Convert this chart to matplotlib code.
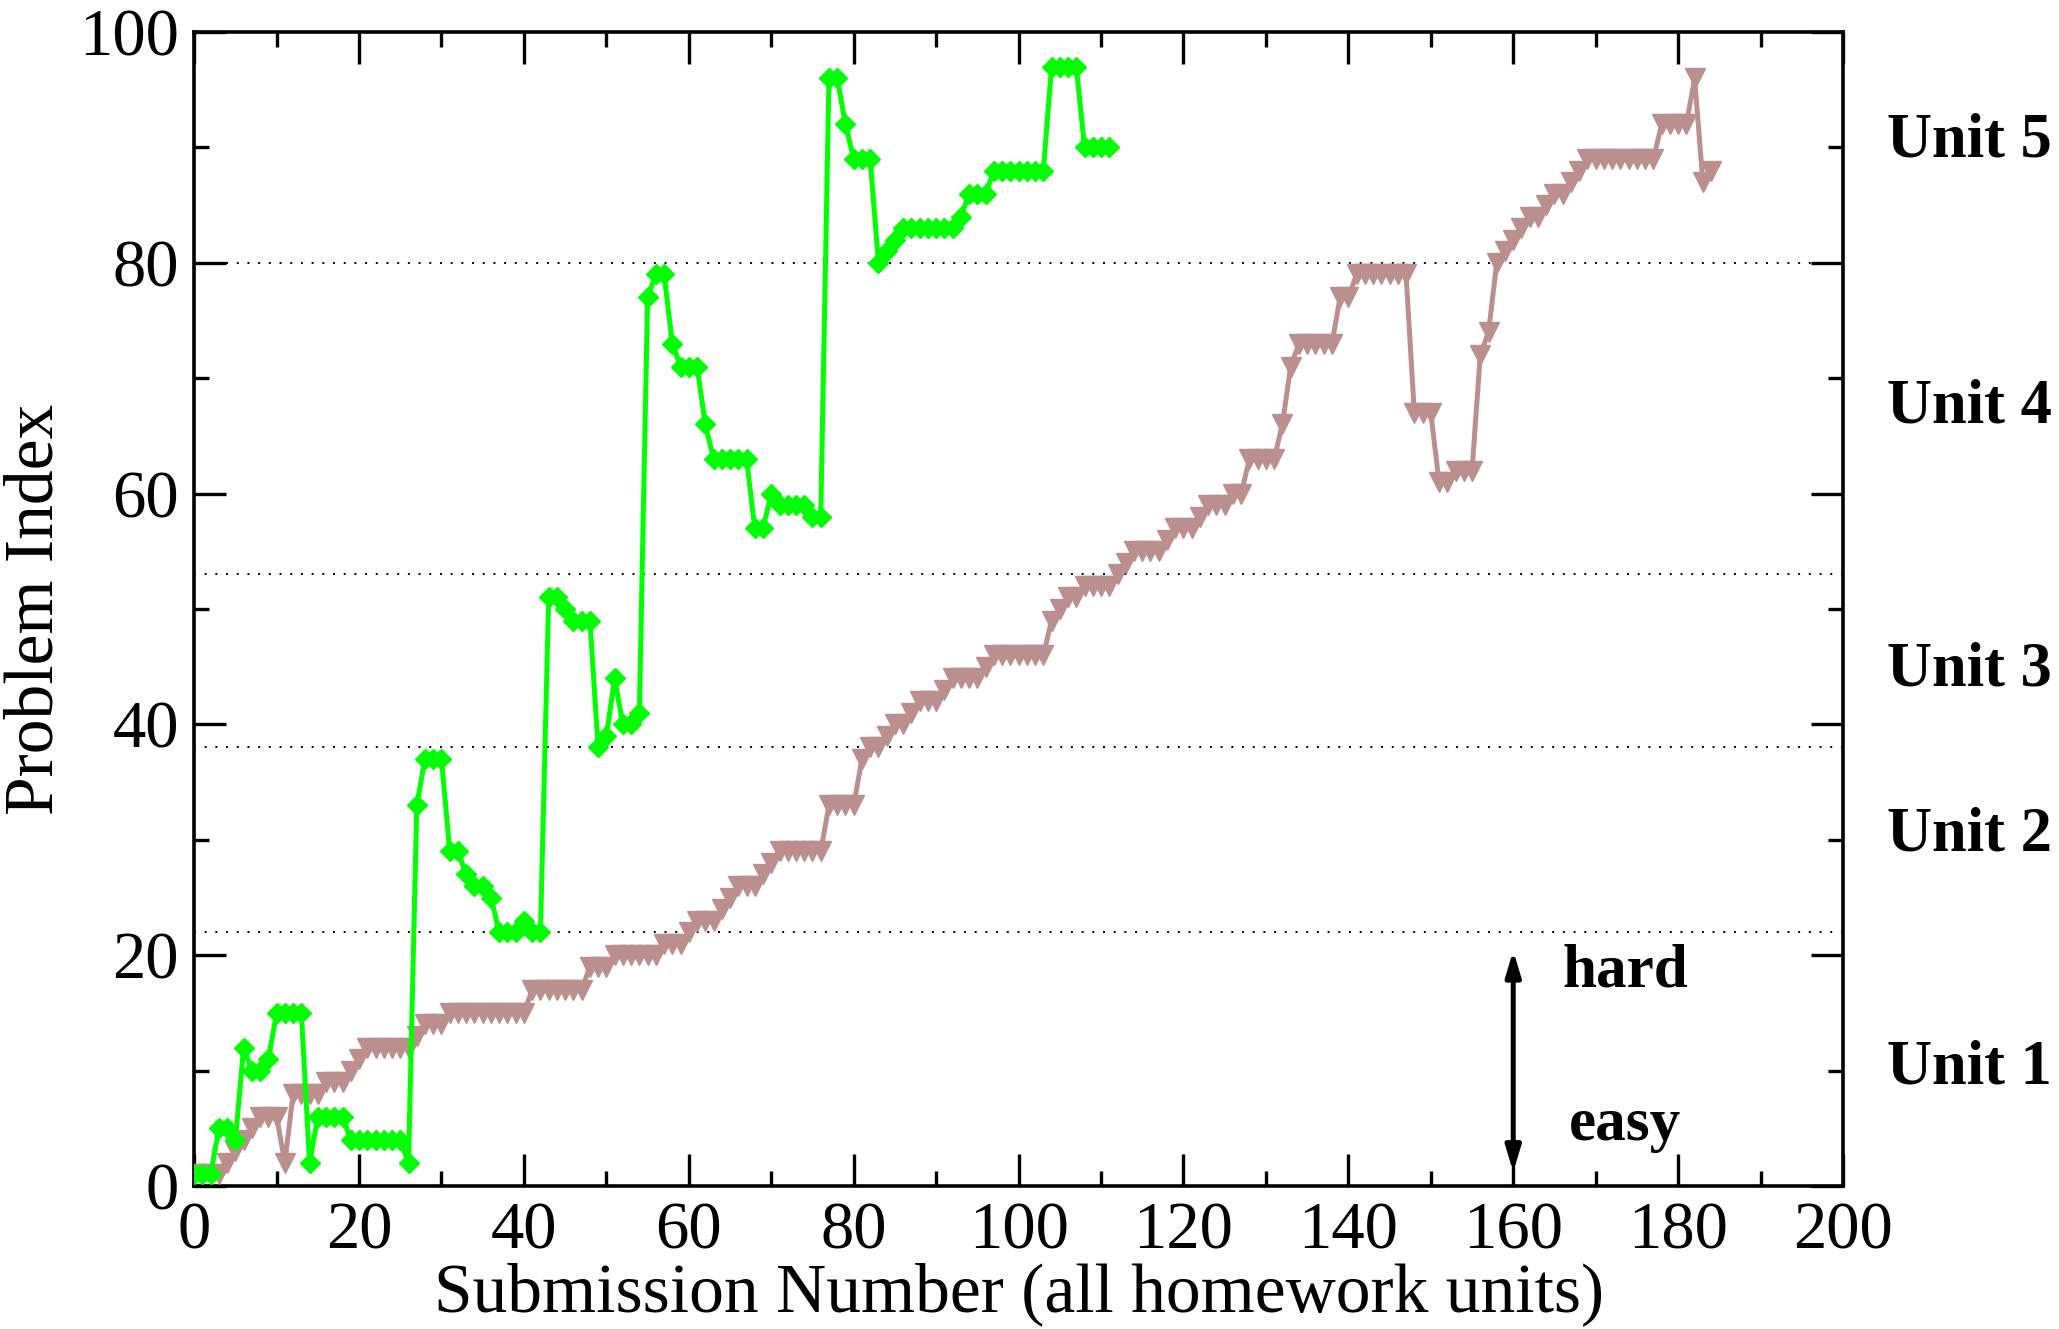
#!/usr/bin/env python3
"""
Problem index vs. submission number for two students.
- green diamonds: jumps around between units
- rosy-brown triangles: works through problems in order
- dotted lines mark unit boundaries, labels on the right
"""

import numpy as np
import matplotlib
matplotlib.use("Agg")
import matplotlib.pyplot as plt
from matplotlib.ticker import MultipleLocator

# Problem index per submission (index = submission number)
GREEN_PROBLEM = [
    1, 1, 1, 5, 5, 4, 12, 10, 10, 11,
    15, 15, 15, 15, 2, 6, 6, 6, 6, 4,
    4, 4, 4, 4, 4, 4, 2, 33, 37, 37,
    37, 29, 29, 27, 26, 26, 25, 22, 22, 22,
    23, 22, 22, 51, 51, 50, 49, 49, 49, 38,
    39, 44, 40, 40, 41, 77, 79, 79, 73, 71,
    71, 71, 66, 63, 63, 63, 63, 63, 57, 57,
    60, 59, 59, 59, 59, 58, 58, 96, 96, 92,
    89, 89, 89, 80, 81, 82, 83, 83, 83, 83,
    83, 83, 83, 84, 86, 86, 86, 88, 88, 88,
    88, 88, 88, 88, 97, 97, 97, 97, 90, 90,
    90, 90,
]

BROWN_PROBLEM = [
    1, 1, 1, 1, 2, 3, 4, 5, 6, 6,
    6, 2, 8, 8, 8, 8, 9, 9, 9, 10,
    11, 12, 12, 12, 12, 12, 12, 13, 14, 14,
    14, 15, 15, 15, 15, 15, 15, 15, 15, 15,
    15, 17, 17, 17, 17, 17, 17, 17, 19, 19,
    19, 20, 20, 20, 20, 20, 20, 21, 21, 21,
    22, 23, 23, 23, 24, 25, 26, 26, 26, 27,
    28, 29, 29, 29, 29, 29, 29, 33, 33, 33,
    33, 37, 38, 38, 39, 40, 40, 41, 42, 42,
    42, 43, 44, 44, 44, 44, 45, 46, 46, 46,
    46, 46, 46, 46, 49, 50, 51, 51, 52, 52,
    52, 52, 53, 54, 55, 55, 55, 55, 56, 57,
    57, 57, 58, 59, 59, 59, 60, 60, 63, 63,
    63, 63, 66, 71, 73, 73, 73, 73, 73, 77,
    77, 79, 79, 79, 79, 79, 79, 79, 67, 67,
    67, 61, 61, 62, 62, 62, 72, 74, 80, 81,
    82, 83, 84, 84, 85, 86, 86, 87, 88, 89,
    89, 89, 89, 89, 89, 89, 89, 89, 92, 92,
    92, 92, 96, 87, 88,
]

# unit boundaries (problem index) and labels
UNIT_BOUNDS = [22, 38, 53, 80]
UNIT_LABELS = ["Unit 1", "Unit 2", "Unit 3", "Unit 4", "Unit 5"]
UNIT_LABEL_Y = [10.2, 30.4, 44.7, 67.5, 90.5]

COL_GREEN = "#00ff00"
COL_BROWN = "#bc8f8f"

plt.rcParams["font.family"] = ["Liberation Serif", "DejaVu Serif"]


def main():
    fig = plt.figure(figsize=(20.59, 13.29), dpi=100)
    ax = fig.add_axes([0.0943, 0.1076, 0.8008, 0.8683])

    xb = np.arange(len(BROWN_PROBLEM))
    xg = np.arange(len(GREEN_PROBLEM))

    ax.plot(xb, BROWN_PROBLEM, color=COL_BROWN, lw=3.6, marker="v", ms=14,
            mec=COL_BROWN, mfc=COL_BROWN, zorder=3)
    ax.plot(xg, GREEN_PROBLEM, color=COL_GREEN, lw=3.6, marker="D", ms=10.5,
            mec=COL_GREEN, mfc=COL_GREEN, zorder=4)

    for yb in UNIT_BOUNDS:
        ax.axhline(yb, color="black", lw=1.4, ls=(0, (1, 4.5)), zorder=2)

    for lab, yy in zip(UNIT_LABELS, UNIT_LABEL_Y):
        ax.text(205.3, yy, lab, fontsize=45, fontweight="bold", ha="left",
                va="center", clip_on=False)

    # difficulty arrow
    ax.annotate("", xy=(160, 20.4), xytext=(160, 1.2),
                arrowprops=dict(arrowstyle="<|-|>,head_length=1.5,head_width=0.45",
                                color="black", lw=3.6, shrinkA=0, shrinkB=0))
    ax.text(166.0, 18.6, "hard", fontsize=44, fontweight="bold", ha="left", va="center")
    ax.text(166.7, 5.3, "easy", fontsize=44, fontweight="bold", ha="left", va="center")

    ax.set_xlim(0, 200)
    ax.set_ylim(0, 100)
    ax.xaxis.set_major_locator(MultipleLocator(20))
    ax.xaxis.set_minor_locator(MultipleLocator(10))
    ax.yaxis.set_major_locator(MultipleLocator(20))
    ax.yaxis.set_minor_locator(MultipleLocator(10))
    ax.tick_params(which="both", direction="in", top=True, right=True, width=2.4)
    ax.tick_params(which="major", length=23, labelsize=48, pad=11)
    ax.tick_params(which="minor", length=11)
    for sp in ax.spines.values():
        sp.set_linewidth(2.6)

    ax.set_xlabel("Submission Number (all homework units)", fontsize=50, labelpad=0)
    ax.set_ylabel("Problem Index", fontsize=50, labelpad=8)

    fig.savefig("out.png", dpi=100)
    plt.close(fig)


if __name__ == "__main__":
    main()
